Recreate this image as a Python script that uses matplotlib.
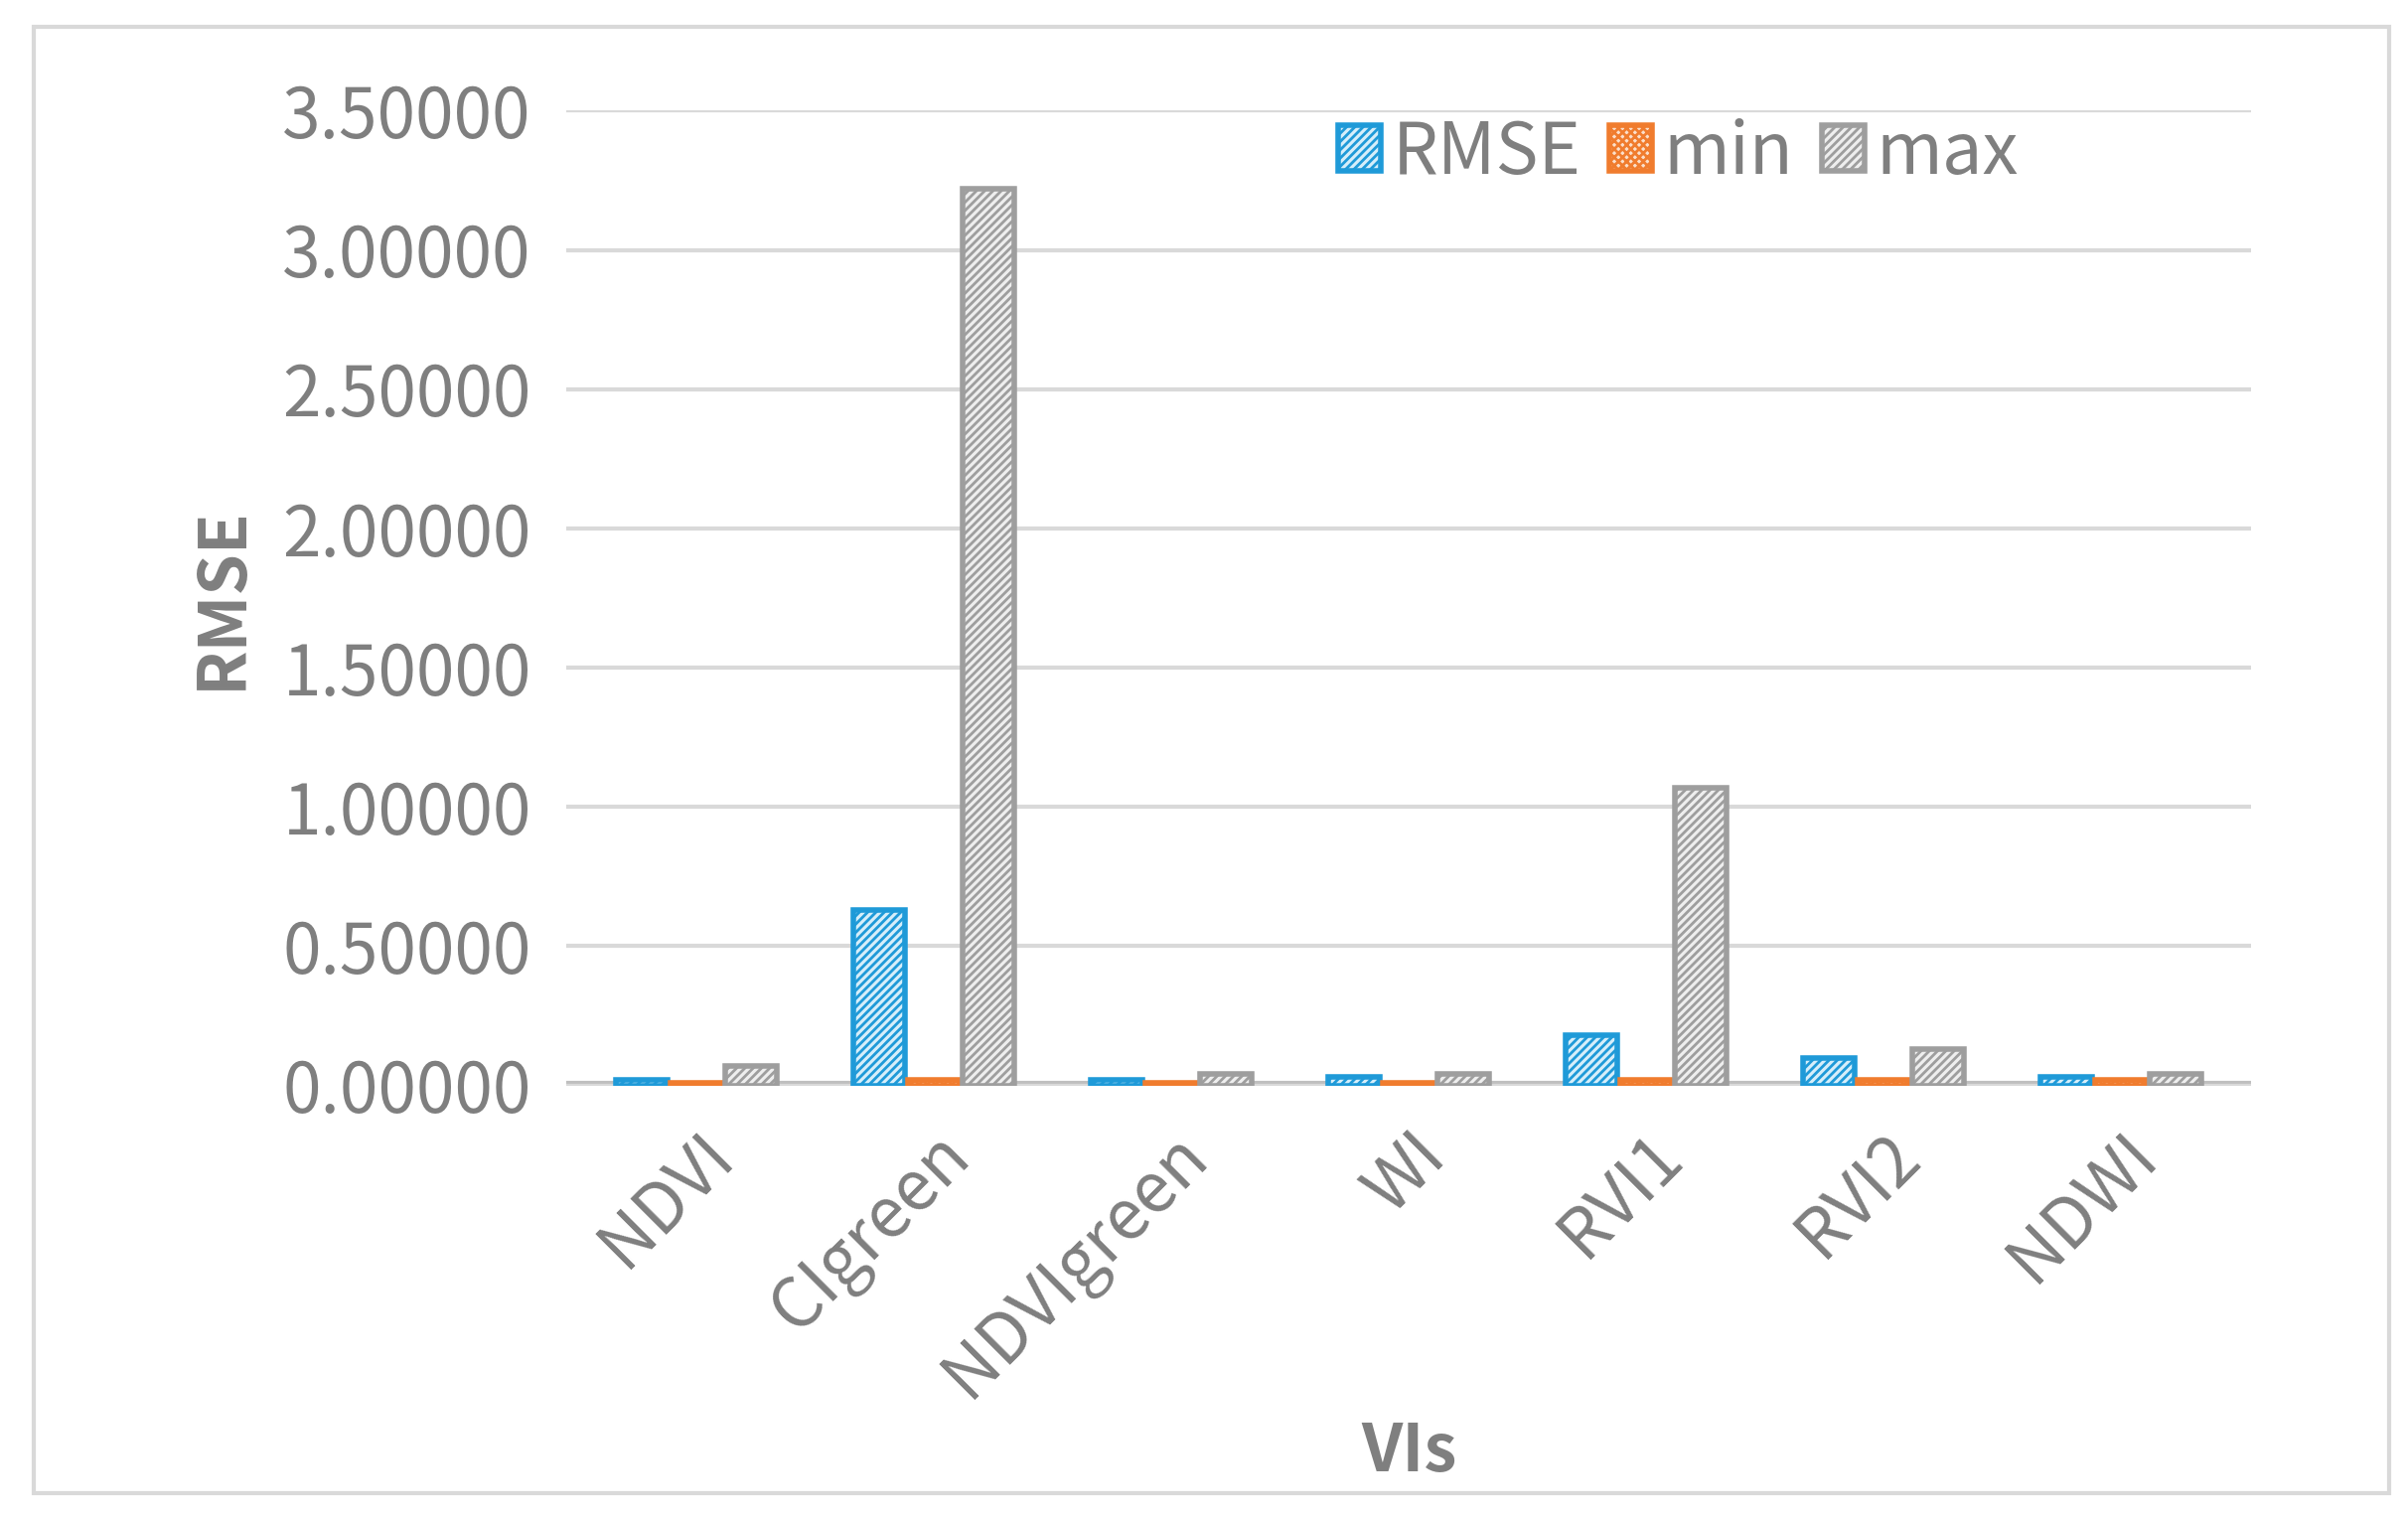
import matplotlib.pyplot as plt
from matplotlib.patches import Rectangle
import numpy as np

categories = ["NDVI", "CIgreen", "NDVIgreen", "WI", "RVI1", "RVI2", "NDWI"]
rmse = [0.02, 0.63, 0.02, 0.03, 0.18, 0.10, 0.03]
vmin = [0.01, 0.02, 0.01, 0.01, 0.02, 0.02, 0.02]
vmax = [0.07, 3.22, 0.04, 0.04, 1.07, 0.13, 0.04]
yticks = [0.0, 0.5, 1.0, 1.5, 2.0, 2.5, 3.0, 3.5]

plt.rcParams["font.family"] = ["Noto Sans CJK SC", "DejaVu Sans"]
plt.rcParams["hatch.linewidth"] = 2.0
gray = "#7f7f7f"

fig = plt.figure(figsize=(24.24, 15.26), dpi=100)
fig.patches.append(Rectangle((0.014, 0.015), 0.978, 0.967, transform=fig.transFigure,
                             fill=False, edgecolor="#d9d9d9", linewidth=3))
ax = fig.add_axes([0.235, 0.284, 0.70, 0.643])

x = np.arange(len(categories))
w = 0.23
series = [(rmse, "RMSE", "#1f9ad8", "#d6eefa", "////"),
          (vmin, "min", "#f07c2e", "#fbe0cc", "xxxx"),
          (vmax, "max", "#9e9e9e", "#eeeeee", "////")]
for i, (vals, lab, ec, fc, h) in enumerate(series):
    ax.bar(x + (i - 1) * w, vals, width=w * 0.95, color=fc, edgecolor=ec,
           linewidth=4, hatch=h, label=lab)

ax.set_ylim(0, 3.5)
ax.set_xlim(-0.55, len(categories) - 0.45)
ax.set_yticks(yticks)
ax.set_yticklabels([f"{v:.5f}" for v in yticks])
ax.yaxis.grid(True, color="#d9d9d9", linewidth=3)
ax.set_axisbelow(True)
ax.axhline(0, color="#bfbfbf", linewidth=8, zorder=0.5)
for s in ax.spines.values():
    s.set_visible(False)
ax.tick_params(axis="both", length=0, colors=gray, labelsize=50, pad=25)
ax.set_xticks(x)
ax.set_xticklabels(categories, rotation=45, ha="right", rotation_mode="anchor")
ax.set_ylabel("RMSE", color=gray, fontsize=48, fontweight="bold", labelpad=20)
ax.set_xlabel("VIs", color=gray, fontsize=48, fontweight="bold", labelpad=5)
leg = ax.legend(loc="upper right", ncol=3, frameon=False, fontsize=52,
                handlelength=0.6, handleheight=0.6, columnspacing=0.4,
                handletextpad=0.15, bbox_to_anchor=(0.9, 1.06))
for t in leg.get_texts():
    t.set_color(gray)

fig.savefig("out.png", dpi=100)
